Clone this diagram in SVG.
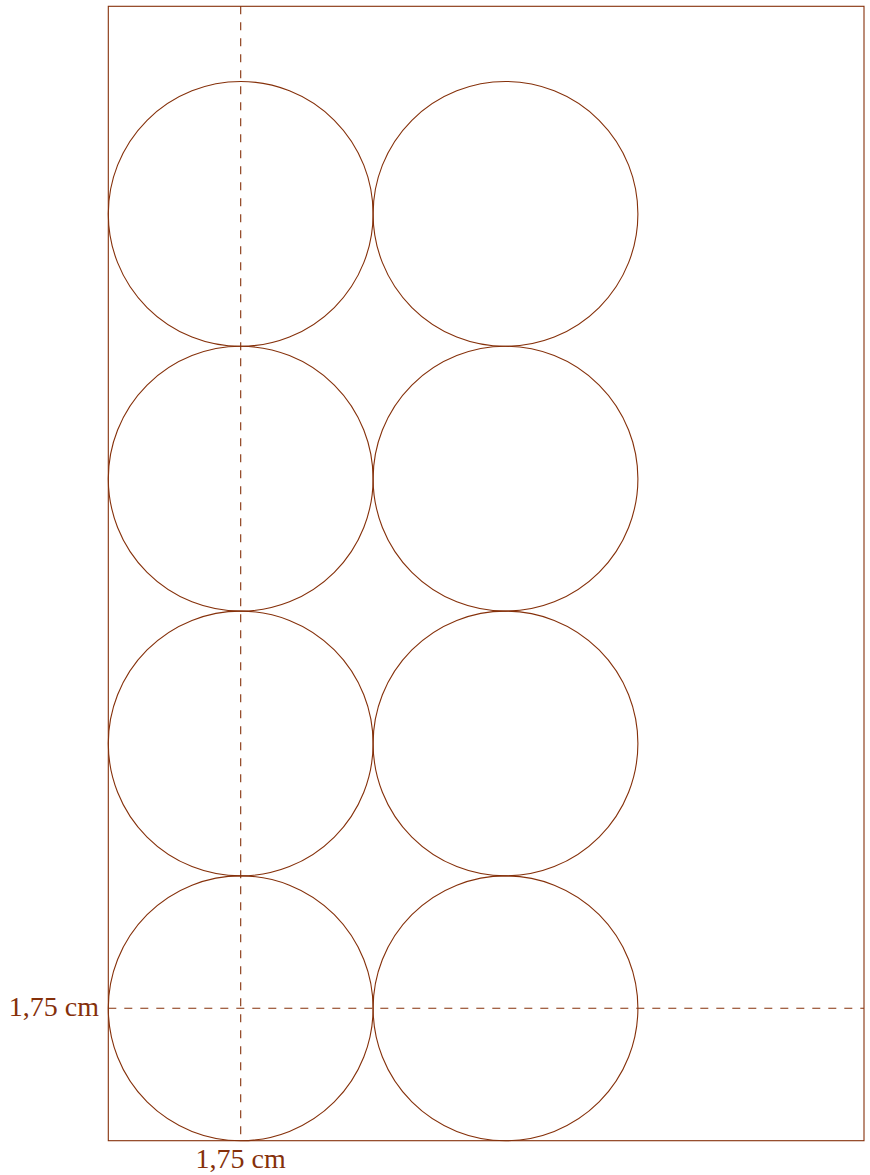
<svg xmlns="http://www.w3.org/2000/svg" width="870" height="1175" viewBox="0 0 870 1175">
<style>
.s{fill:none;stroke:#85300a;stroke-width:1.1}
.d{fill:none;stroke:#85300a;stroke-width:1.1;stroke-dasharray:8 8}
.t{font-family:"Liberation Serif",serif;font-size:28px;fill:#85300a}
</style>
<rect id="sheet" class="s" x="108.3" y="6.3" width="755.7" height="1134.4"/>
<g id="circles">
<g id="c11"><circle class="s" cx="240.7" cy="213.9" r="132.4"/></g>
<g id="c12"><circle class="s" cx="505.5" cy="213.9" r="132.4"/></g>
<g id="c21"><circle class="s" cx="240.7" cy="478.7" r="132.4"/></g>
<g id="c22"><circle class="s" cx="505.5" cy="478.7" r="132.4"/></g>
<g id="c31"><circle class="s" cx="240.7" cy="743.5" r="132.4"/></g>
<g id="c32"><circle class="s" cx="505.5" cy="743.5" r="132.4"/></g>
<g id="c41"><circle class="s" cx="240.7" cy="1008.3" r="132.4"/></g>
<g id="c42"><circle class="s" cx="505.5" cy="1008.3" r="132.4"/></g>
</g>
<g id="connectors">
<line class="d" x1="240.7" y1="6.3" x2="240.7" y2="1140.7"/>
<line class="d" x1="108.3" y1="1008.3" x2="864" y2="1008.3"/>
</g>
<text class="t" x="99" y="1016" text-anchor="end">1,75 cm</text>
<text class="t" x="240.7" y="1168" text-anchor="middle">1,75 cm</text>
</svg>
